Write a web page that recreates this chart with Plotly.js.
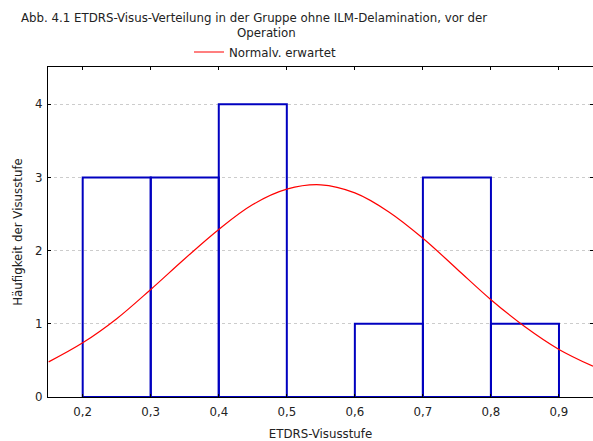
<!DOCTYPE html>
<html>
<head>
<meta charset="utf-8">
<script src="https://cdn.plot.ly/plotly-3.0.1.min.js"></script>
<style>html,body{margin:0;padding:0;background:#fff;}#chart{width:593px;height:441px;}</style>
</head>
<body>
<div id="chart"></div>
<script>
// Histogram bins (centres) and counts
const binCenters = [0.25, 0.35, 0.45, 0.55, 0.65, 0.75, 0.85];
const counts = [3, 3, 4, 0, 1, 3, 1];
// Expected normal curve values
const curveX = [0.15, 0.20, 0.25, 0.30, 0.35, 0.40, 0.45, 0.50, 0.55, 0.60, 0.65, 0.70, 0.75, 0.80, 0.85, 0.90, 0.95];
const curveY = [0.48, 0.74, 1.07, 1.47, 1.89, 2.29, 2.63, 2.84, 2.90, 2.79, 2.53, 2.17, 1.75, 1.33, 0.96, 0.65, 0.42];
const xTicks = [0.2, 0.3, 0.4, 0.5, 0.6, 0.7, 0.8, 0.9];
const xTickText = ["0,2", "0,3", "0,4", "0,5", "0,6", "0,7", "0,8", "0,9"];
const yTicks = [0, 1, 2, 3, 4];

const font = "DejaVu Sans, Verdana, sans-serif";
const fs = 11.8;
const tc = "#222";

const traces = [
  {
    type: "bar",
    x: binCenters,
    y: counts,
    width: 0.1,
    marker: {color: "rgba(255,255,255,0)", line: {color: "#0000C0", width: 2}},
    showlegend: false,
    hoverinfo: "x+y"
  },
  {
    type: "scatter",
    mode: "lines",
    x: curveX,
    y: curveY,
    line: {color: "#FF0000", width: 1.2, shape: "spline"},
    name: "Normalv. erwartet"
  }
];

const L = 48, PW = 545, T = 67, PH = 330;
const layout = {
  width: 593,
  height: 441,
  margin: {l: L, r: 0, t: T, b: 44},
  paper_bgcolor: "#fff",
  plot_bgcolor: "#fff",
  font: {family: font, size: fs, color: tc},
  title: {
    text: "Abb. 4.1 ETDRS-Visus-Verteilung in der Gruppe ohne ILM-Delamination, vor der",
    x: 254 / 593, xanchor: "center", xref: "container",
    y: 1 - 18 / 441, yanchor: "middle", yref: "container",
    font: {family: font, size: fs, color: tc}
  },
  annotations: [{
    text: "Operation", xref: "paper", yref: "paper",
    x: (266 - L) / PW, y: 1 + (T - 33) / PH,
    xanchor: "center", yanchor: "middle", showarrow: false,
    font: {family: font, size: fs, color: tc}
  }],
  showlegend: true,
  legend: {
    x: (189 - L) / PW, y: 1 + (T - 52) / PH, xanchor: "left", yanchor: "middle",
    orientation: "h", bgcolor: "rgba(0,0,0,0)",
    font: {family: font, size: fs, color: tc}
  },
  bargap: 0,
  xaxis: {
    range: [0.149, 0.95],
    tickvals: xTicks, ticktext: xTickText,
    ticks: "inside", ticklen: 3, tickcolor: "#000",
    ticklabelstandoff: 4,
    showline: true, linecolor: "#000", linewidth: 1, mirror: "ticks",
    showgrid: false, zeroline: false,
    tickfont: {family: font, size: fs, color: tc},
    title: {text: "ETDRS-Visusstufe", font: {family: font, size: fs, color: tc}, standoff: 15}
  },
  yaxis: {
    range: [0, 4.51],
    tickvals: yTicks,
    ticks: "inside", ticklen: 3, tickcolor: "#000",
    ticklabelstandoff: 2,
    showline: true, linecolor: "#000", linewidth: 1, mirror: "ticks",
    showgrid: true, gridcolor: "#cccccc", griddash: "dot", gridwidth: 1,
    zeroline: false,
    tickfont: {family: font, size: fs, color: tc},
    title: {text: "Häufigkeit der Visusstufe", font: {family: font, size: fs, color: tc}, standoff: 9}
  }
};

Plotly.newPlot("chart", traces, layout, {displayModeBar: false, staticPlot: true});
</script>
</body>
</html>
